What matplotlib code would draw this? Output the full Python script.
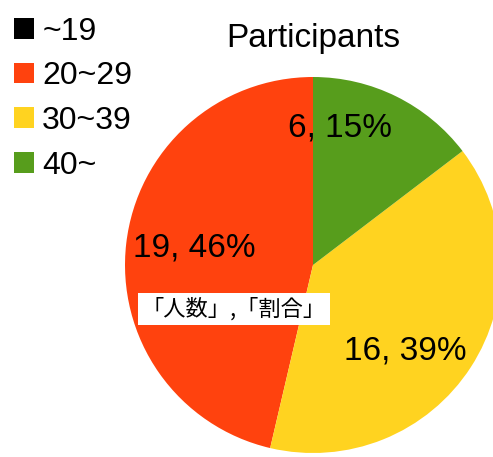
import numpy as np
import matplotlib
matplotlib.use('Agg')
import matplotlib.pyplot as plt

categories = ['~19', '20~29', '30~39', '40~']
counts = [0, 19, 16, 6]
colors = ['#000000', '#ff420e', '#ffd320', '#579d1c']
title = 'Participants'
note = '「人数」,「割合」'

plt.rcParams['font.family'] = ['Liberation Sans', 'DejaVu Sans']

fig = plt.figure(figsize=(4.93, 4.57), dpi=100)
ax = fig.add_axes([0, 0, 1, 1])

# pie centre at pixel (313, 265) from top-left, radius 188 px
wedges, _ = ax.pie(counts, colors=colors, startangle=90, counterclock=True,
                   radius=1.0, wedgeprops=dict(linewidth=0))
ax.set_xlim(-313 / 188, (493 - 313) / 188)
ax.set_ylim(-(457 - 265) / 188, 265 / 188)
ax.set_aspect('auto')

# data labels "count, pct" placed roughly where the original put them
total = sum(counts)
label_pos = {1: (172, 0.64), 2: (-43, 0.67), 3: (79, 0.74)}
for i, (ang, r) in label_pos.items():
    a = np.radians(ang)
    pct = 100 * counts[i] / total
    ax.text(r * np.cos(a), r * np.sin(a), '%d, %d%%' % (counts[i], round(pct)),
            ha='center', va='center', fontsize=24)

ax.text((234 - 313) / 188, (265 - 309) / 188, note, ha='center', va='center',
        fontsize=16, family=['Noto Sans CJK JP', 'DejaVu Sans'],
        bbox=dict(facecolor='white', edgecolor='none', pad=3))

fig.text(313 / 493, 1 - 39 / 457, title, ha='center', va='center', fontsize=24)

fig.legend(wedges, categories, loc='upper left', bbox_to_anchor=(0.0, 0.995),
           frameon=False, fontsize=23, handlelength=0.62, handleheight=0.62,
           handletextpad=0.25, labelspacing=0.46, borderpad=0.15,
           borderaxespad=0.3)

fig.savefig('out.png', dpi=100)
